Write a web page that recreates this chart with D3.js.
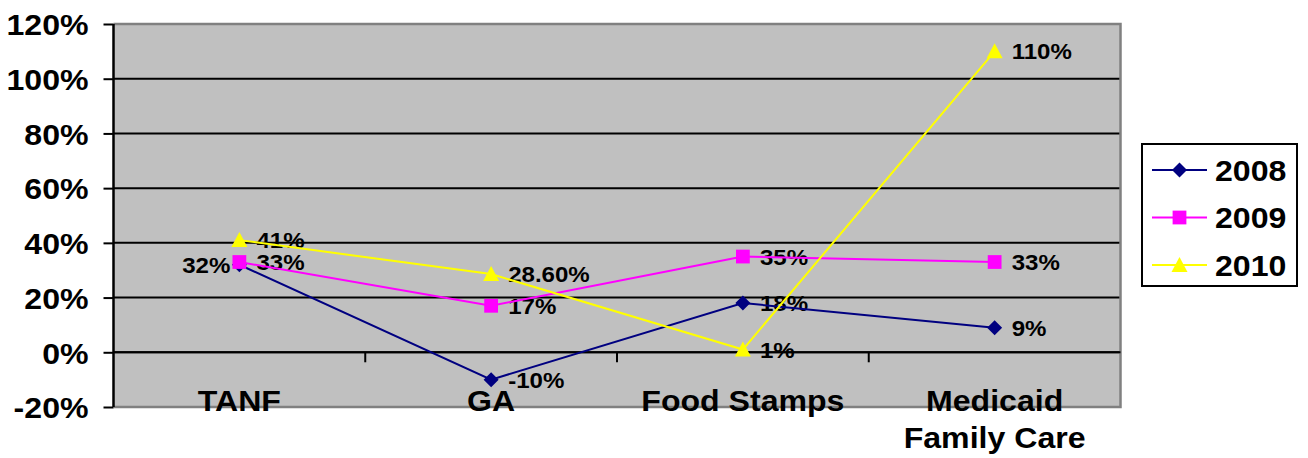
<!DOCTYPE html>
<html>
<head>
<meta charset="utf-8">
<script src="https://cdn.jsdelivr.net/npm/d3@7"></script>
<style>
  html, body { margin: 0; padding: 0; background: #ffffff; }
  svg { display: block; font-family: Arial, "Liberation Sans", sans-serif; font-weight: bold; }
</style>
</head>
<body>
<svg id="chart" width="1308" height="458"></svg>
<script>
const categories = ["TANF", "GA", "Food Stamps", "Medicaid\nFamily Care"];
const seriesNames = ["2008", "2009", "2010"];
const values2008 = [32, -10, 18, 9];
const values2009 = [33, 17, 35, 33];
const values2010 = [41, 28.6, 1, 110];
const labels2008 = ["32%", "-10%", "18%", "9%"];
const labels2009 = ["33%", "17%", "35%", "33%"];
const labels2010 = ["41%", "28.60%", "1%", "110%"];
const yTicks = [-20, 0, 20, 40, 60, 80, 100, 120];

(function () {
const series = [
  { name: seriesNames[0], values: values2008, labels: labels2008, color: "#000080", shape: "diamond" },
  { name: seriesNames[1], values: values2009, labels: labels2009, color: "#FF00FF", shape: "square" },
  { name: seriesNames[2], values: values2010, labels: labels2010, color: "#FFFF00", shape: "triangle" }
];

const SX = 1.07; // horizontal stretch of the reference text
const svg = d3.select("#chart");
const pl = 113.5, pr = 1120.5, pt = 24, pb = 407;

const x = d3.scaleBand().domain(categories).range([pl, pr]);
const y = d3.scaleLinear().domain([-20, 120]).range([pb, pt]);

function addText(parent, tx, ty, str, size, anchor) {
  return parent.append("text")
    .attr("transform", `translate(${tx},${ty}) scale(${SX},1)`)
    .attr("text-anchor", anchor).attr("font-size", size).attr("fill", "#000")
    .attr("dy", "0.36em").text(str);
}

// plot background
svg.append("rect").attr("x", pl).attr("y", pt).attr("width", pr - pl).attr("height", pb - pt)
  .attr("fill", "#C0C0C0");

// gridlines
svg.append("g").selectAll("line").data(yTicks.filter(t => t > -20 && t < 120)).join("line")
  .attr("x1", pl).attr("x2", pr).attr("y1", d => y(d)).attr("y2", d => y(d))
  .attr("stroke", "#000").attr("stroke-width", 2);

// border (gray) top, right, bottom
svg.append("path")
  .attr("d", `M${pl},${pt}H${pr}V${pb}H${pl}`)
  .attr("fill", "none").attr("stroke", "#808080").attr("stroke-width", 2.5);

// y axis
const yAxis = d3.axisLeft(y).tickValues(yTicks).tickSize(10).tickFormat(d => d + "%");
const gy = svg.append("g").attr("transform", `translate(${pl},0)`).call(yAxis);
gy.select(".domain").attr("stroke", "#000").attr("stroke-width", 2.5).attr("d", `M0,${pt}V${pb}`);
gy.selectAll(".tick line").attr("stroke", "#000").attr("stroke-width", 2);
gy.selectAll(".tick text").attr("x", null).attr("dy", "0.36em")
  .attr("transform", `translate(-25,0) scale(${SX},1)`)
  .attr("font-size", 30).attr("font-weight", "bold").attr("fill", "#000")
  .attr("font-family", "Arial, 'Liberation Sans', sans-serif");

// x axis line at 0 with ticks at category boundaries
const gx = svg.append("g");
gx.append("line").attr("x1", pl).attr("x2", pr).attr("y1", y(0)).attr("y2", y(0))
  .attr("stroke", "#000").attr("stroke-width", 2);
const boundaries = categories.slice(1).map(c => x(c));
gx.selectAll("line.tk").data(boundaries).join("line").attr("class", "tk")
  .attr("x1", d => d).attr("x2", d => d).attr("y1", y(0)).attr("y2", y(0) + 10)
  .attr("stroke", "#000").attr("stroke-width", 2);

const cx = c => x(c) + x.bandwidth() / 2;

// category labels
const catG = svg.append("g");
categories.forEach(c => {
  c.split("\n").forEach((ln, i) => {
    addText(catG, cx(c), 400 + i * 37, ln, 30, "middle");
  });
});

function markerPath(shape) {
  if (shape === "diamond") return "M0,-7.5L7.5,0L0,7.5L-7.5,0Z";
  if (shape === "square") return d3.symbol().type(d3.symbolSquare).size(190)();
  return "M0,-8L8,7L-8,7Z";
}

// data labels
const labG = svg.append("g");
series.forEach((s, si) => {
  s.values.forEach((v, i) => {
    const leftSide = (si === 0 && i === 0);
    addText(labG, leftSide ? cx(categories[i]) - 9 : cx(categories[i]) + 17, y(v),
      s.labels[i], 22.5, leftSide ? "end" : "start");
  });
});

// lines + markers
const line = d3.line().x((d, i) => cx(categories[i])).y(d => y(d));
series.forEach(s => {
  svg.append("path").datum(s.values).attr("d", line)
    .attr("fill", "none").attr("stroke", s.color).attr("stroke-width", 2);
  svg.append("g").selectAll("path").data(s.values).join("path")
    .attr("d", markerPath(s.shape))
    .attr("transform", (d, i) => `translate(${cx(categories[i])},${y(d)})`)
    .attr("fill", s.color);
});

// legend
const lg = svg.append("g");
lg.append("rect").attr("x", 1142).attr("y", 144).attr("width", 155).attr("height", 142)
  .attr("fill", "#fff").attr("stroke", "#000").attr("stroke-width", 2);
series.forEach((s, i) => {
  const ly = 170 + i * 47.5;
  lg.append("line").attr("x1", 1152).attr("x2", 1207).attr("y1", ly).attr("y2", ly)
    .attr("stroke", s.color).attr("stroke-width", 2);
  lg.append("path").attr("d", markerPath(s.shape))
    .attr("transform", `translate(1179.5,${ly})`).attr("fill", s.color);
  addText(lg, 1215, ly, s.name, 30, "start");
});
})();
</script>
</body>
</html>
